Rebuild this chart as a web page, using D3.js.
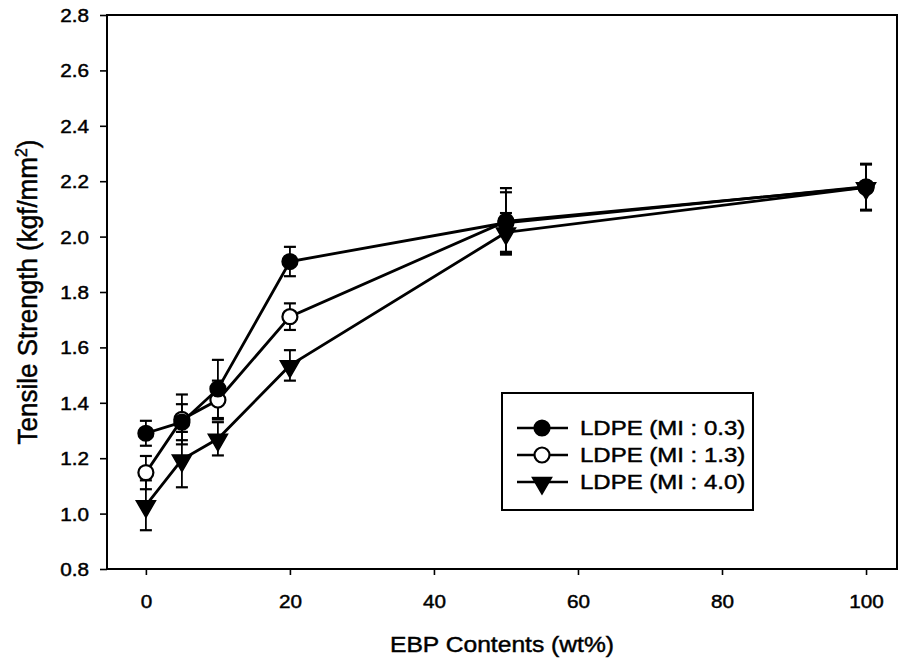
<!DOCTYPE html>
<html>
<head>
<meta charset="utf-8">
<script src="https://cdn.jsdelivr.net/npm/d3@7"></script>
<style>
  body { margin: 0; background: #fff; }
  text { font-family: "Liberation Sans", Arial, sans-serif; fill: #000; stroke: #000; stroke-width: 0.45; }
</style>
</head>
<body>
<div id="chart"></div>
<script>
// data
var ebp = [0, 5, 10, 20, 50, 100];
var mi03 = [1.29, 1.33, 1.45, 1.91, 2.05, 2.18];
var mi03Err = [0.045, 0.065, 0.105, 0.053, 0.11, 0.083];
var mi13 = [1.148, 1.34, 1.41, 1.711, 2.055, 2.178];
var mi13Err = [0.06, 0.09, 0.07, 0.048, 0.12, 0.083];
var mi40 = [1.03, 1.195, 1.27, 1.535, 2.015, 2.178];
var mi40Err = [0.09, 0.1, 0.06, 0.055, 0.07, 0.083];
var seriesNames = ["LDPE (MI : 0.3)", "LDPE (MI : 1.3)", "LDPE (MI : 4.0)"];
var xTicks = [0, 20, 40, 60, 80, 100];
var yTicks = [0.8, 1.0, 1.2, 1.4, 1.6, 1.8, 2.0, 2.2, 2.4, 2.6, 2.8];

var svgWidth = 901, svgHeight = 665;
// plot frame edges
var plotL = 107, plotR = 897, plotT = 15, plotB = 569;
// the scanned lettering is a little wider than plain Arial
var stretch = 1.15;

var svg = d3.select("#chart").append("svg")
  .attr("width", svgWidth)
  .attr("height", svgHeight);

var xScale = d3.scaleLinear().domain([-5.4, 104.3]).range([plotL, plotR]);
var yScale = d3.scaleLinear().domain([0.8, 2.8]).range([plotB, plotT]);

// axes
var xAxis = d3.axisBottom(xScale).tickValues(xTicks).tickSize(6).tickSizeOuter(0)
  .tickFormat(d3.format("d"));
var yAxis = d3.axisLeft(yScale).tickValues(yTicks).tickSize(7).tickSizeOuter(0)
  .tickFormat(d3.format(".1f"));

var gx = svg.append("g").attr("transform", "translate(0," + plotB + ")").call(xAxis);
var gy = svg.append("g").attr("transform", "translate(" + plotL + ",0)").call(yAxis);
[gx, gy].forEach(function(g) {
  g.select(".domain").remove();
  g.selectAll(".tick line").attr("stroke", "#000").attr("stroke-width", 1.6);
  g.selectAll(".tick text").attr("font-size", 18).attr("font-family", "Liberation Sans, Arial, sans-serif")
    .attr("transform", "scale(" + stretch + ",1)");
});
gx.selectAll(".tick text").attr("dy", 0).attr("y", 39);
gy.selectAll(".tick text").attr("x", -18 / stretch).attr("dy", "0.36em");

// frame
svg.append("rect")
  .attr("x", plotL).attr("y", plotT)
  .attr("width", plotR - plotL).attr("height", plotB - plotT)
  .attr("fill", "none").attr("stroke", "#000").attr("stroke-width", 2);

// axis titles
svg.append("text")
  .attr("transform", "translate(" + (plotL + plotR) / 2 + ",652)scale(1.12,1)")
  .attr("text-anchor", "middle").attr("font-size", 22)
  .text("EBP Contents (wt%)");

var yt = svg.append("text")
  .attr("text-anchor", "middle").attr("font-size", 26)
  .attr("transform", "translate(37," + (plotT + plotB) / 2 + ")rotate(-90)scale(1,1.05)");
yt.append("tspan").text("Tensile Strength (kgf/mm");
yt.append("tspan").attr("font-size", 16).attr("dy", -10).text("2");
yt.append("tspan").attr("dy", 10).text(")");

// series table
var series = [
  { name: seriesNames[1], vals: mi13, err: mi13Err, marker: "open" },
  { name: seriesNames[2], vals: mi40, err: mi40Err, marker: "tri" },
  { name: seriesNames[0], vals: mi03, err: mi03Err, marker: "filled" }
];

var line = d3.line()
  .x(function(d) { return xScale(d[0]); })
  .y(function(d) { return yScale(d[1]); });

var triangle = d3.symbol().type(d3.symbolTriangle).size(160);

function drawMarker(g, type, x, y) {
  if (type === "tri") {
    g.append("path").attr("d", triangle())
      .attr("transform", "translate(" + x + "," + (y + 1) + ")rotate(180)")
      .attr("fill", "#000").attr("stroke", "#000").attr("stroke-width", 1.5);
  } else {
    g.append("circle").attr("cx", x).attr("cy", y).attr("r", 7.5)
      .attr("fill", type === "filled" ? "#000" : "#fff")
      .attr("stroke", "#000").attr("stroke-width", 2.2);
  }
}

// lines
series.forEach(function(s) {
  svg.append("path")
    .datum(ebp.map(function(x, i) { return [x, s.vals[i]]; }))
    .attr("d", line)
    .attr("fill", "none").attr("stroke", "#000").attr("stroke-width", 2.8);
});

// error bars
series.forEach(function(s) {
  var g = svg.append("g").attr("stroke", "#000");
  ebp.forEach(function(x, i) {
    var cx = xScale(x);
    var y1 = yScale(s.vals[i] + s.err[i]), y2 = yScale(s.vals[i] - s.err[i]);
    g.append("line").attr("x1", cx).attr("x2", cx).attr("y1", y1).attr("y2", y2).attr("stroke-width", 1.8);
    g.append("line").attr("x1", cx - 6).attr("x2", cx + 6).attr("y1", y1).attr("y2", y1).attr("stroke-width", 2.2);
    g.append("line").attr("x1", cx - 6).attr("x2", cx + 6).attr("y1", y2).attr("y2", y2).attr("stroke-width", 2.2);
  });
});

// markers
series.forEach(function(s) {
  var g = svg.append("g");
  ebp.forEach(function(x, i) {
    drawMarker(g, s.marker, xScale(x), yScale(s.vals[i]));
  });
});

// legend
var legend = svg.append("g");
legend.append("rect")
  .attr("x", 502).attr("y", 393).attr("width", 251).attr("height", 117)
  .attr("fill", "#fff").attr("stroke", "#000").attr("stroke-width", 2);

var legendItems = [
  { name: seriesNames[0], marker: "filled" },
  { name: seriesNames[1], marker: "open" },
  { name: seriesNames[2], marker: "tri" }
];
legendItems.forEach(function(item, i) {
  var y = 428 + i * 27;
  legend.append("line").attr("x1", 517).attr("x2", 568).attr("y1", y).attr("y2", y)
    .attr("stroke", "#000").attr("stroke-width", 2.5);
  drawMarker(legend, item.marker, 542, y);
  legend.append("text").attr("transform", "translate(580," + y + ")scale(1.2,1)")
    .attr("dy", "0.36em").attr("font-size", 20).text(item.name);
});
</script>
</body>
</html>
